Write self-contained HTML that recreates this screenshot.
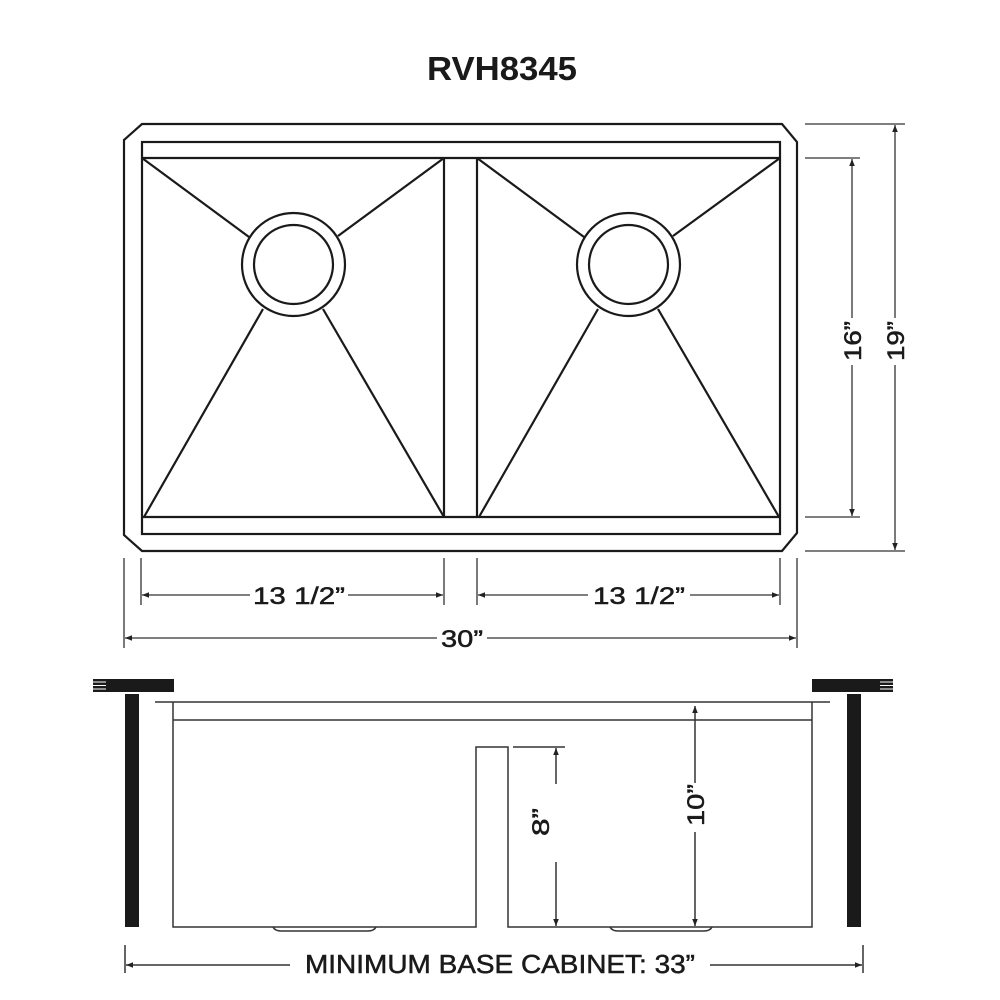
<!DOCTYPE html>
<html><head><meta charset="utf-8"><style>html,body{margin:0;padding:0;background:#fff}svg{display:block}</style></head>
<body>
<svg width="1000" height="1000" viewBox="0 0 1000 1000" xmlns="http://www.w3.org/2000/svg" font-family="Liberation Sans, sans-serif">
<defs>
<marker id="a" viewBox="0 0 10 10" refX="10" refY="5" markerWidth="9" markerHeight="7" orient="auto-start-reverse" markerUnits="userSpaceOnUse"><path d="M0,1 L10,5 L0,9 z" fill="#222"/></marker>
</defs>
<text x="502" y="80" font-size="33" font-weight="bold" text-anchor="middle" fill="#1a1a1a" textLength="150" lengthAdjust="spacingAndGlyphs">RVH8345</text>
<g fill="none" stroke="#1a1a1a" stroke-width="2.2">
<polygon points="142,124 782,124 797,142 797,533 782,551 142,551 124,535 124,140"/>
<rect x="142" y="142" width="638" height="392"/>
<line x1="142" y1="158" x2="780" y2="158"/>
<line x1="142" y1="517" x2="780" y2="517"/>
<line x1="444" y1="158" x2="444" y2="517"/>
<line x1="477" y1="158" x2="477" y2="517"/>
<circle cx="293.5" cy="264.5" r="51.5"/><circle cx="293.5" cy="264.5" r="39.5"/>
<circle cx="628.5" cy="264.5" r="51.5"/><circle cx="628.5" cy="264.5" r="39.5"/>
<line x1="142" y1="158" x2="249" y2="237"/><line x1="444" y1="158" x2="338" y2="236"/>
<line x1="263" y1="309" x2="144" y2="517"/><line x1="323" y1="309" x2="444" y2="517"/>
<line x1="477" y1="158" x2="584" y2="237"/><line x1="780" y1="158" x2="673" y2="236"/>
<line x1="598" y1="309" x2="479" y2="517"/><line x1="658" y1="309" x2="779" y2="517"/>
</g>
<g stroke="#333" stroke-width="1.3" fill="none">
<line x1="805" y1="124" x2="905" y2="124"/><line x1="805" y1="551" x2="905" y2="551"/>
<line x1="805" y1="158" x2="860" y2="158"/><line x1="805" y1="517" x2="860" y2="517"/>
<line x1="895" y1="125" x2="895" y2="318" marker-start="url(#a)"/><line x1="895" y1="365" x2="895" y2="550" marker-end="url(#a)"/>
<line x1="852" y1="159" x2="852" y2="318" marker-start="url(#a)"/><line x1="852" y1="365" x2="852" y2="516" marker-end="url(#a)"/>
<line x1="124" y1="558" x2="124" y2="648"/><line x1="141" y1="558" x2="141" y2="605"/>
<line x1="444" y1="558" x2="444" y2="605"/><line x1="477" y1="558" x2="477" y2="605"/>
<line x1="780" y1="558" x2="780" y2="605"/><line x1="797" y1="558" x2="797" y2="648"/>
<line x1="142" y1="595" x2="250" y2="595" marker-start="url(#a)"/><line x1="348" y1="595" x2="443" y2="595" marker-end="url(#a)"/>
<line x1="478" y1="595" x2="588" y2="595" marker-start="url(#a)"/><line x1="690" y1="595" x2="779" y2="595" marker-end="url(#a)"/>
<line x1="125" y1="638" x2="437" y2="638" marker-start="url(#a)"/><line x1="487" y1="638" x2="796" y2="638" marker-end="url(#a)"/>
</g>
<g font-size="24" fill="#1a1a1a" stroke="#1a1a1a" stroke-width="0.5" text-anchor="middle">
<text x="299" y="604" textLength="92" lengthAdjust="spacingAndGlyphs">13 1/2”</text>
<text x="639" y="604" textLength="92" lengthAdjust="spacingAndGlyphs">13 1/2”</text>
<text x="462" y="647" textLength="42" lengthAdjust="spacingAndGlyphs">30”</text>
<text transform="translate(861,341) rotate(-90)" textLength="40" lengthAdjust="spacingAndGlyphs">16”</text>
<text transform="translate(904,341) rotate(-90)" textLength="40" lengthAdjust="spacingAndGlyphs">19”</text>
<text transform="translate(549,822) rotate(-90)" textLength="28" lengthAdjust="spacingAndGlyphs">8”</text>
<text transform="translate(704,805) rotate(-90)" textLength="42" lengthAdjust="spacingAndGlyphs">10”</text>
<text x="500" y="973" font-size="26" textLength="390" lengthAdjust="spacingAndGlyphs">MINIMUM BASE CABINET: 33”</text>
</g>
<g fill="#1a1a1a">
<rect x="93" y="679" width="81" height="13"/>
<rect x="125" y="694" width="14" height="233"/>
<rect x="812" y="679" width="81" height="13"/>
<rect x="847" y="694" width="14" height="233"/>
</g>
<g fill="none" stroke="#333" stroke-width="1.5">
<line x1="155" y1="702" x2="830" y2="702"/>
<line x1="173" y1="720" x2="812" y2="720"/>
<polyline points="173,702 173,927 476,927 476,747 508,747 508,927 812,927 812,702"/>
<path d="M273,927 q2,4 8,4 h87 q6,0 8,-4"/>
<path d="M610,927 q2,4 8,4 h86 q6,0 8,-4"/>
<line x1="513" y1="747" x2="565" y2="747"/>
<line x1="556" y1="748" x2="556" y2="784" marker-start="url(#a)"/><line x1="556" y1="862" x2="556" y2="926" marker-end="url(#a)"/>
<line x1="695" y1="706" x2="695" y2="783" marker-start="url(#a)"/><line x1="695" y1="832" x2="695" y2="926" marker-end="url(#a)"/>
<line x1="125" y1="945" x2="125" y2="973"/><line x1="863" y1="945" x2="863" y2="973"/>
<line x1="126" y1="965" x2="290" y2="965" marker-start="url(#a)"/><line x1="710" y1="965" x2="862" y2="965" marker-end="url(#a)"/>
</g>
<g stroke="#fff" stroke-width="1">
<line x1="93" y1="682" x2="106" y2="682"/><line x1="93" y1="685.5" x2="106" y2="685.5"/><line x1="93" y1="689" x2="106" y2="689"/>
<line x1="880" y1="682" x2="893" y2="682"/><line x1="880" y1="685.5" x2="893" y2="685.5"/><line x1="880" y1="689" x2="893" y2="689"/>
</g>
</svg>
</body></html>
